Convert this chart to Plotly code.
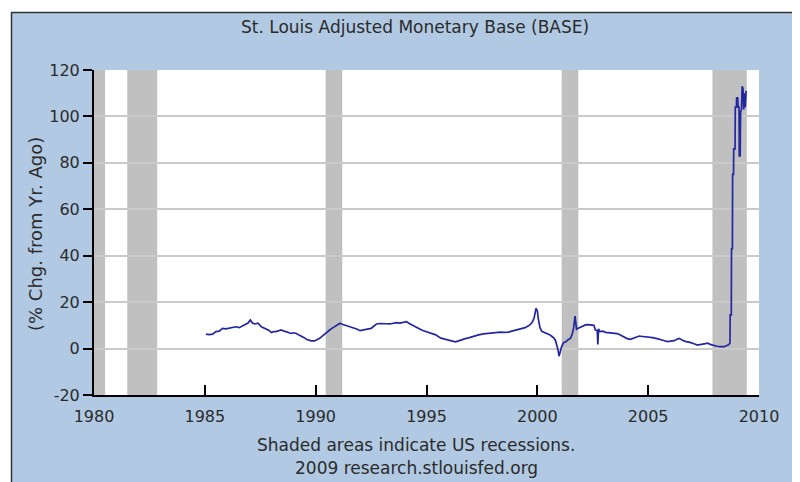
import plotly.graph_objects as go

# ---------------- data ----------------
years = [
    1985.05, 1985.20, 1985.35, 1985.50, 1985.65, 1985.80, 1985.95,
    1986.10, 1986.25, 1986.40, 1986.55, 1986.70, 1986.85, 1986.95,
    1987.05, 1987.15, 1987.25, 1987.40, 1987.55, 1987.65, 1987.77, 1987.90,
    1988.00, 1988.10, 1988.20, 1988.35, 1988.45, 1988.55, 1988.67, 1988.80, 1988.90,
    1989.00, 1989.13, 1989.25, 1989.35, 1989.50, 1989.60, 1989.70, 1989.80, 1989.95,
    1990.05, 1990.18, 1990.30, 1990.40, 1990.52, 1990.63, 1990.75, 1990.86, 1990.98,
    1991.10, 1991.20, 1991.30, 1991.42, 1991.54, 1991.65, 1991.76, 1991.88,
    1992.00, 1992.15, 1992.30, 1992.40, 1992.50, 1992.62, 1992.75, 1992.90,
    1993.05, 1993.20, 1993.35, 1993.50, 1993.65, 1993.80, 1993.95,
    1994.10, 1994.20, 1994.33, 1994.45, 1994.55, 1994.67, 1994.78, 1994.90,
    1995.00, 1995.15, 1995.30, 1995.42, 1995.53, 1995.65, 1995.78, 1995.90,
    1996.05, 1996.18, 1996.30, 1996.45, 1996.60, 1996.75, 1996.90,
    1997.05, 1997.20, 1997.35, 1997.57, 1997.75, 1997.95,
    1998.15, 1998.33, 1998.50, 1998.70, 1998.85,
    1999.00, 1999.15, 1999.30, 1999.45, 1999.60, 1999.70, 1999.78, 1999.86, 1999.94,
    2000.00, 2000.05, 2000.12, 2000.20, 2000.32, 2000.43, 2000.55, 2000.65, 2000.75,
    2000.82, 2000.88, 2000.93, 2000.98,
    2001.03, 2001.10, 2001.18, 2001.30, 2001.40, 2001.50, 2001.58, 2001.64, 2001.70,
    2001.73, 2001.77, 2001.85, 2001.95,
    2002.05, 2002.17, 2002.30, 2002.47, 2002.55, 2002.62, 2002.70, 2002.73, 2002.76,
    2002.82, 2002.95,
    2003.08, 2003.25, 2003.45, 2003.60, 2003.68, 2003.80, 2003.90,
    2004.05, 2004.20, 2004.35, 2004.50, 2004.60, 2004.75, 2004.90,
    2005.05, 2005.20, 2005.40, 2005.57, 2005.70, 2005.87,
    2006.00, 2006.17, 2006.30, 2006.40, 2006.55, 2006.70, 2006.85,
    2007.00, 2007.10, 2007.22, 2007.35, 2007.45, 2007.60, 2007.70, 2007.80, 2007.90,
    2008.00, 2008.10, 2008.25, 2008.43, 2008.55, 2008.62, 2008.69,
    2008.70, 2008.75, 2008.76, 2008.80, 2008.81, 2008.85, 2008.86, 2008.92,
    2008.93, 2008.98, 2008.99, 2009.04, 2009.06, 2009.10, 2009.11, 2009.15,
    2009.17, 2009.21, 2009.24, 2009.28, 2009.31, 2009.34, 2009.38, 2009.42,
]
pct_change = [
    6.2, 6.0, 6.2, 7.3, 7.5, 8.7, 8.5,
    8.8, 9.2, 9.4, 9.0, 9.7, 10.2, 11.0,
    12.3, 11.0, 10.6, 10.9, 9.4, 9.0, 8.3, 7.8,
    6.9, 7.3, 7.3, 7.8, 8.0, 7.6, 7.3, 7.0, 6.5,
    6.8, 6.5, 5.8, 5.4, 4.6, 3.9, 3.5, 3.3, 3.3,
    3.8, 4.4, 5.4, 6.3, 7.2, 8.0, 8.8, 9.4, 10.3,
    10.9, 10.5, 10.2, 9.8, 9.4, 9.0, 8.7, 8.3,
    7.7, 8.0, 8.3, 8.5, 8.7, 9.6, 10.6, 10.8,
    10.9, 10.7, 10.6, 10.9, 11.2, 11.0, 11.2,
    11.6, 10.9, 10.2, 9.7, 9.2, 8.6, 8.0, 7.6,
    7.3, 7.0, 6.5, 5.9, 5.2, 4.5, 4.2, 3.9,
    3.4, 3.0, 2.9, 3.3, 3.9, 4.3, 4.6,
    5.1, 5.6, 5.9, 6.3, 6.5, 6.7,
    6.9, 7.1, 7.0, 7.1, 7.5,
    7.9, 8.2, 8.5, 9.0, 9.8, 10.5, 11.5, 13.4, 17.3,
    16.3, 12.5, 9.0, 7.4, 7.0, 6.7, 6.0, 5.3, 4.5,
    3.5, 1.5, -0.5, -3.3,
    -1.5, 1.0, 2.5, 3.0, 3.9, 4.4, 6.5, 9.0, 14.0,
    11.0, 8.3, 8.8, 9.2,
    9.8, 10.2, 10.3, 10.2, 10.0, 8.0, 7.8, 1.8, 8.5,
    7.3, 7.5,
    7.0, 6.9, 6.6, 6.4, 6.2, 5.5, 4.9,
    4.3, 4.0, 4.6, 5.0, 5.4, 5.2, 5.1,
    4.9, 4.7, 4.3, 4.0, 3.5, 3.0,
    3.2, 3.4, 4.0, 4.4, 3.6, 3.0, 2.8,
    2.5, 2.0, 1.5, 1.8, 2.0, 2.2, 2.3, 1.8, 1.5,
    1.1, 1.0, 0.8, 0.8, 1.3, 1.6, 2.3,
    14.5, 14.5, 43.0, 43.0, 75.0, 75.0, 86.0, 86.0,
    104.0, 104.0, 108.0, 108.0, 104.0, 104.0, 83.0, 83.0,
    102.0, 103.0, 113.0, 112.0, 103.0, 110.0, 104.0, 111.0,
]

recession_start = [1980.0, 1981.5, 1990.45, 2001.1, 2007.9]
recession_end = [1980.5, 1982.85, 1991.2, 2001.85, 2009.45]

x_ticks = [1980, 1985, 1990, 1995, 2000, 2005, 2010]
y_ticks = [-20, 0, 20, 40, 60, 80, 100, 120]
y_tick_labels = ["-20", "0", "20", "40", "60", "80", "100", "120"]

title_text = "St. Louis Adjusted Monetary Base (BASE)"
y_title = "(% Chg. from Yr. Ago)"
footer_1 = "Shaded areas indicate US recessions."
footer_2 = "2009 research.stlouisfed.org"

# ---------------- layout helpers ----------------
# The page body has an 8px margin, so the figure is drawn 8px in from the top-left.
OFF = 8
PAGE_W, PAGE_H = 800, 482
W, H = PAGE_W - OFF, PAGE_H - OFF
PLOT_L, PLOT_R, PLOT_T, PLOT_B = 94, 759, 70, 395   # page pixels
L, R, T, B = PLOT_L - OFF, PAGE_W - PLOT_R, PLOT_T - OFF, PAGE_H - PLOT_B
PW, PH = W - L - R, H - T - B


def px_x(px):
    return (px - PLOT_L) / PW


def px_y(py):
    return (PLOT_B - py) / PH


BG = "#B1C9E2"
TXT = "#2B2B2B"
FONT = "DejaVu Sans"

fig = go.Figure()
fig.add_trace(go.Scatter(
    x=years, y=pct_change, mode="lines",
    line=dict(color="#2327A0", width=1.7),
    hoverinfo="skip", showlegend=False,
))

shapes = []
for s, e in zip(recession_start, recession_end):
    shapes.append(dict(type="rect", xref="x", yref="paper", x0=s, x1=e, y0=0, y1=1,
                       fillcolor="#C0C0C0", line=dict(width=0), layer="between"))

# white outer margin and dark frame line
shapes.append(dict(type="rect", xref="paper", yref="paper", x0=px_x(-5), x1=px_x(11),
                   y0=px_y(PAGE_H + 5), y1=px_y(-5), fillcolor="white", line=dict(width=0)))
shapes.append(dict(type="rect", xref="paper", yref="paper", x0=px_x(-5), x1=px_x(PAGE_W + 5),
                   y0=px_y(12), y1=px_y(-5), fillcolor="white", line=dict(width=0)))
shapes.append(dict(type="line", xref="paper", yref="paper", x0=px_x(11.5), x1=px_x(11.5),
                   y0=px_y(12), y1=px_y(PAGE_H + 5), line=dict(color="#333333", width=1.5)))
shapes.append(dict(type="line", xref="paper", yref="paper", x0=px_x(11), x1=px_x(PAGE_W + 5),
                   y0=px_y(12.5), y1=px_y(12.5), line=dict(color="#333333", width=1.5)))

annotations = [
    dict(text=title_text, xref="paper", yref="paper", x=px_x(415), y=px_y(27),
         showarrow=False, xanchor="center", yanchor="middle",
         font=dict(family=FONT, size=17, color=TXT)),
    dict(text=y_title, xref="paper", yref="paper", x=px_x(35), y=px_y(234),
         showarrow=False, xanchor="center", yanchor="middle", textangle=-90,
         font=dict(family=FONT, size=18, color=TXT)),
    dict(text=footer_1, xref="paper", yref="paper", x=px_x(416), y=px_y(445),
         showarrow=False, xanchor="center", yanchor="middle",
         font=dict(family=FONT, size=17, color=TXT)),
    dict(text=footer_2, xref="paper", yref="paper", x=px_x(416), y=px_y(468),
         showarrow=False, xanchor="center", yanchor="middle",
         font=dict(family=FONT, size=17, color=TXT)),
]

fig.update_layout(
    width=W, height=H,
    margin=dict(l=L, r=R, t=T, b=B, pad=0),
    paper_bgcolor=BG, plot_bgcolor="white",
    shapes=shapes, annotations=annotations,
    xaxis=dict(range=[1980, 2010], tickvals=x_ticks, ticktext=[str(v) for v in x_ticks],
               ticks="inside", ticklen=10, tickwidth=1.5, tickcolor="black",
               ticklabelstandoff=6,
               showline=True, linecolor="black", linewidth=2, showgrid=False,
               zeroline=False, tickfont=dict(family=FONT, size=16, color=TXT)),
    yaxis=dict(range=[-20, 120], tickvals=y_ticks, ticktext=y_tick_labels,
               ticks="outside", ticklen=9,
               tickwidth=1.5, tickcolor="black", showline=True, linecolor="black",
               linewidth=2, showgrid=True, gridcolor="#CACACA", gridwidth=1.5,
               zeroline=False, tickfont=dict(family=FONT, size=16, color=TXT)),
)

fig.write_html("out.html")
